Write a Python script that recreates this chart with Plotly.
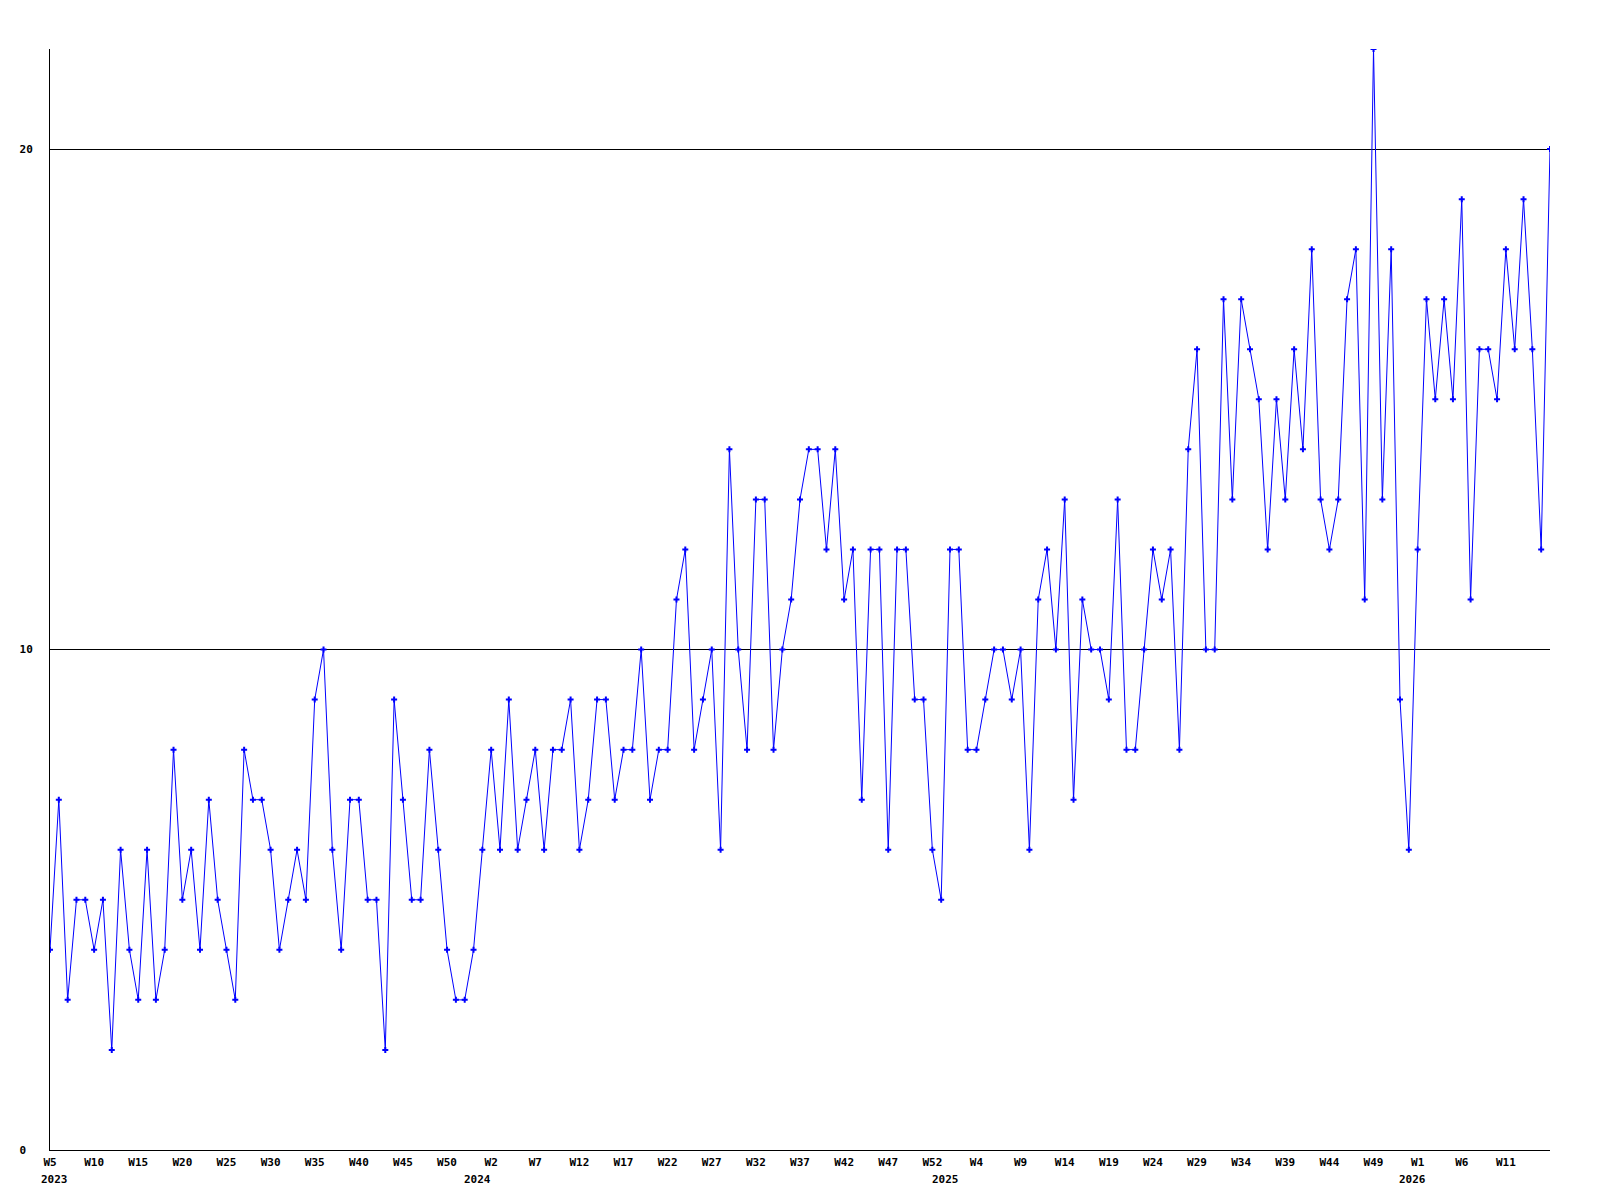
import plotly.graph_objects as go

# weekly counts, 2023 W5 .. 2026 W16
years = [2023, 2024, 2025, 2026]
first_week = [5, 1, 1, 1]
last_week = [53, 53, 53, 16]

counts = [
    4, 7, 3, 5, 5, 4, 5, 2, 6, 4, 3, 6, 3, 4, 8, 5, 6, 4, 7, 5, 4, 3, 8, 7, 7, 6, 4, 5, 6, 5,
    9, 10, 6, 4, 7, 7, 5, 5, 2, 9, 7, 5, 5, 8, 6, 4, 3, 3, 4, 6, 8, 6, 9, 6, 7, 8, 6, 8, 8,
    9, 6, 7, 9, 9, 7, 8, 8, 10, 7, 8, 8, 11, 12, 8, 9, 10, 6, 14, 10, 8, 13, 13, 8, 10, 11, 13, 14, 14,
    12, 14, 11, 12, 7, 12, 12, 6, 12, 12, 9, 9, 6, 5, 12, 12, 8, 8, 9, 10, 10, 9, 10, 6, 11, 12, 10, 13, 7,
    11, 10, 10, 9, 13, 8, 8, 10, 12, 11, 12, 8, 14, 16, 10, 10, 17, 13, 17, 16, 15, 12, 15, 13, 16, 14, 18,
    13, 12, 13, 17, 18, 11, 22, 13, 18, 9, 6, 12, 17, 15, 17, 15, 19, 11, 16, 16, 15, 18, 16, 19, 16, 12, 20,
]

y_ticks = [0, 10, 20]
y_tick_text = ["0\u00a0", "10", "20"]

cats, week_names, year_starts = [], [], []
for y, w0, w1 in zip(years, first_week, last_week):
    year_starts.append((y, f"{y}-W{w0:02d}"))
    for w in range(w0, w1 + 1):
        cats.append(f"{y}-W{w:02d}")
        week_names.append(f"W{w}")

# every 5th week gets a label, the last point stays unlabelled
tick_cats = cats[:-1][::5]
tick_text = week_names[:-1][::5]

FONT = dict(family="DejaVu Sans Mono", size=11, color="black", weight="bold")

fig = go.Figure()
fig.add_trace(go.Scatter(
    x=cats, y=counts,
    mode="lines+markers",
    line=dict(color="#0000ff", width=1),
    marker=dict(symbol="cross", size=5, color="#0000ff"),
    showlegend=False,
))

for i, (y, c) in enumerate(year_starts):
    fig.add_annotation(
        x=c, y=0, xref="x", yref="paper",
        text=str(y), showarrow=False, font=FONT,
        yanchor="top", yshift=-21, xshift=4 if i == 0 else -5,
    )

# page body adds 8px, margins compensate so the plot sits at 50..1550 x 49..1150
fig.update_layout(
    width=1600, height=1200,
    margin=dict(l=42, r=58, t=41, b=58),
    paper_bgcolor="white", plot_bgcolor="white",
    xaxis=dict(
        type="category", categoryorder="array", categoryarray=cats,
        range=[0, len(cats) - 1],
        tickvals=tick_cats, ticktext=tick_text,
        showgrid=False, zeroline=False,
        showline=True, linecolor="black", linewidth=1,
        ticks="", tickfont=FONT, tickangle=0, ticklabelstandoff=2,
    ),
    yaxis=dict(
        range=[0, 22],
        tickvals=y_ticks, ticktext=y_tick_text,
        showgrid=True, gridcolor="black", gridwidth=1,
        zeroline=False,
        showline=True, linecolor="black", linewidth=1,
        ticks="", tickfont=FONT, ticklabelstandoff=14,
    ),
)

fig.write_html("out.html")
